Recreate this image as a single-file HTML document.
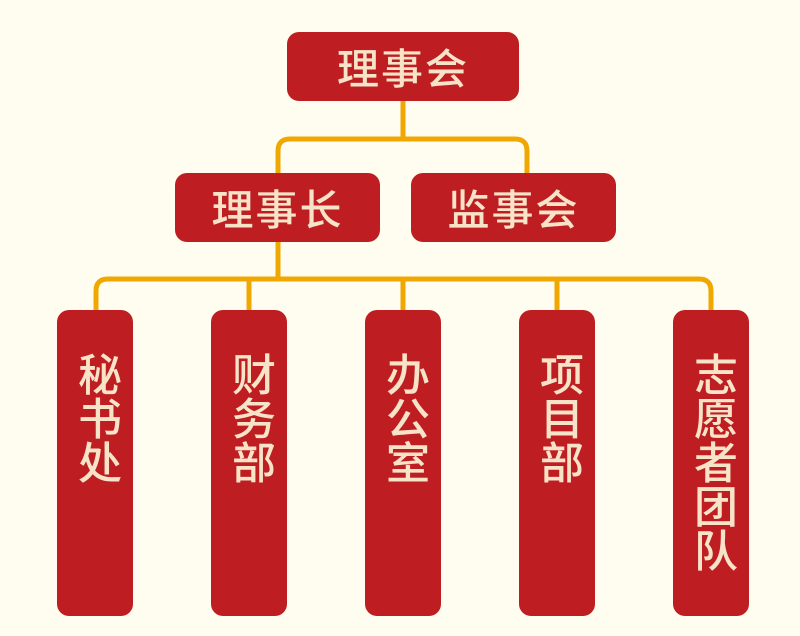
<!DOCTYPE html>
<html><head><meta charset="utf-8"><style>
html,body{margin:0;padding:0}
body{width:800px;height:636px;background:#fffdf0;position:relative;overflow:hidden;font-family:"Liberation Sans","Noto Sans CJK SC",sans-serif}
.b{position:absolute;background:#be1e22;border-radius:12px;color:#f6e3c8;display:flex;align-items:center;justify-content:center;font-weight:500}
.h{font-size:42px;letter-spacing:2px}
.v{width:76px;top:310px;height:306px;font-size:44px;line-height:44px;writing-mode:vertical-rl;justify-content:flex-start;align-items:center;padding-top:42px;box-sizing:border-box;letter-spacing:0}
svg{position:absolute;left:0;top:0}
</style></head><body>
<svg width="800" height="636"><g fill="none" stroke="#f0a800" stroke-width="5">
<path d="M403 100V139"/>
<path d="M278 175V151Q278 139 290 139H515Q527 139 527 151V175"/>
<path d="M278 240V279"/>
<path d="M96 312V291Q96 279 108 279H699Q711 279 711 291V312"/>
<path d="M249 279V312M403 279V312M557 279V312"/>
</g></svg>
<div class="b h" style="left:287px;top:32px;width:232px;height:69px">理事会</div>
<div class="b h" style="left:175px;top:173px;width:205px;height:69px">理事长</div>
<div class="b h" style="left:411px;top:173px;width:205px;height:69px">监事会</div>
<div class="b v" style="left:57px">秘书处</div>
<div class="b v" style="left:211px">财务部</div>
<div class="b v" style="left:365px">办公室</div>
<div class="b v" style="left:519px">项目部</div>
<div class="b v" style="left:673px">志愿者团队</div>
</body></html>
